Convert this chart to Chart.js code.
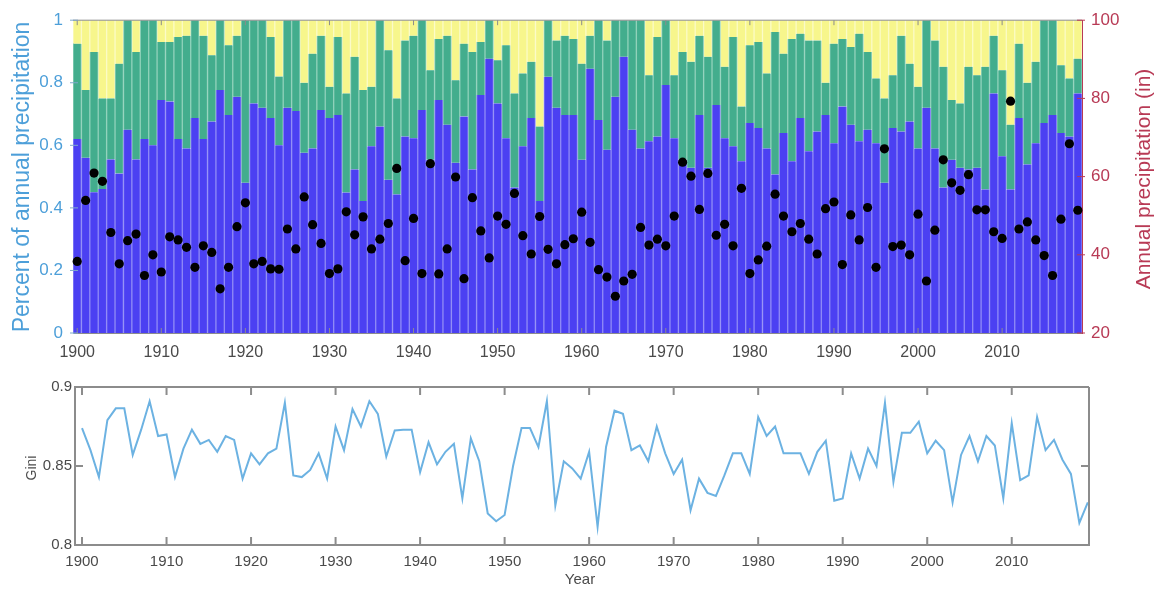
<!DOCTYPE html>
<html>
<head>
<meta charset="utf-8">
<script src="https://cdn.jsdelivr.net/npm/chart.js@4.4.0/dist/chart.umd.min.js"></script>
<style>
  body { margin: 0; background: #fff; }
  #wrap { position: relative; width: 1158px; height: 589px; }
  #share { position: absolute; left: 0; top: 0; }
  #gini { position: absolute; left: 0; top: 370px; }
</style>
</head>
<body>
<div id="wrap">
  <canvas id="share" width="1158" height="370"></canvas>
  <canvas id="gini" width="1158" height="219"></canvas>
</div>
<script>
const years = Array.from({ length: 120 }, (_, i) => 1900 + i);

// fraction of annual precipitation in the blue part (bottom of each bar)
const blueShare = [
  0.62, 0.56, 0.45, 0.46, 0.555, 0.51, 0.65, 0.555, 0.62, 0.60,
  0.745, 0.74, 0.62, 0.59, 0.687, 0.62, 0.676, 0.777, 0.697, 0.755,
  0.48, 0.734, 0.72, 0.687, 0.60, 0.72, 0.71, 0.576, 0.59, 0.713,
  0.687, 0.697, 0.449, 0.523, 0.422, 0.597, 0.66, 0.49, 0.443, 0.628,
  0.623, 0.713, 0.554, 0.745, 0.666, 0.544, 0.692, 0.523, 0.761, 0.877,
  0.734, 0.623, 0.465, 0.597, 0.687, 0.422, 0.819, 0.72, 0.697, 0.697,
  0.554, 0.845, 0.681, 0.586, 0.755, 0.883, 0.65, 0.59, 0.613, 0.628,
  0.793, 0.623, 0.554, 0.528, 0.697, 0.528, 0.729, 0.623, 0.597, 0.549,
  0.671, 0.655, 0.59, 0.507, 0.639, 0.549, 0.687, 0.581, 0.644, 0.697,
  0.607, 0.724, 0.666, 0.613, 0.65, 0.607, 0.48, 0.655, 0.644, 0.676,
  0.59, 0.72, 0.59, 0.465, 0.554, 0.528, 0.523, 0.528, 0.459, 0.766,
  0.565, 0.459, 0.687, 0.539, 0.607, 0.671, 0.697, 0.639, 0.628, 0.766
];

// top of the green part (blue + green), the rest up to 1 is yellow
const greenTop = [
  0.925, 0.777, 0.898, 0.75, 0.75, 0.861, 1.0, 0.898, 1.0, 1.0,
  0.93, 0.93, 0.946, 0.95, 1.0, 0.95, 0.888, 1.0, 0.92, 0.95,
  1.0, 1.0, 1.0, 0.946, 0.82, 1.0, 1.0, 0.80, 0.893, 0.95,
  0.787, 0.946, 0.766, 0.883, 0.777, 0.787, 1.0, 0.904, 0.75, 0.935,
  0.95, 1.0, 0.84, 0.94, 0.95, 0.808, 0.925, 0.898, 0.93, 1.0,
  0.872, 0.92, 0.766, 0.83, 0.867, 0.66, 1.0, 0.935, 0.95, 0.94,
  0.861, 0.95, 1.0, 0.935, 1.0, 1.0, 1.0, 1.0, 0.824, 0.946,
  1.0, 0.824, 0.898, 0.867, 0.95, 0.883, 1.0, 0.851, 0.946, 0.724,
  0.92, 0.93, 0.83, 0.962, 0.893, 0.94, 0.957, 0.935, 0.935, 0.80,
  0.925, 0.94, 0.914, 0.957, 0.898, 0.814, 0.75, 0.824, 0.95, 0.861,
  0.787, 1.0, 0.935, 0.851, 0.745, 0.734, 0.851, 0.824, 0.851, 0.95,
  0.84, 0.666, 0.925, 0.80, 0.867, 1.0, 1.0, 0.856, 0.814, 0.877
];

// annual precipitation (in), black dots
const precipIn = [
  38.3, 53.9, 60.9, 58.8, 45.7, 37.7, 43.6, 45.3, 34.7, 40.0,
  35.6, 44.6, 43.8, 41.9, 36.8, 42.3, 40.6, 31.3, 36.8, 47.2,
  53.3, 37.7, 38.3, 36.4, 36.3, 46.6, 41.5, 54.8, 47.7, 42.9,
  35.2, 36.4, 51.0, 45.1, 49.7, 41.5, 44.0, 48.0, 62.1, 38.5,
  49.3, 35.2, 63.3, 35.1, 41.5, 59.9, 33.9, 54.6, 46.1, 39.2,
  49.9, 47.8, 55.7, 44.9, 40.2, 49.8, 41.4, 37.7, 42.6, 44.1,
  50.9, 43.2, 36.2, 34.3, 29.4, 33.3, 35.0, 47.0, 42.5, 44.0,
  42.3, 49.9, 63.7, 60.1, 51.6, 60.8, 45.0, 47.8, 42.3, 57.0,
  35.2, 38.7, 42.2, 55.5, 49.9, 45.9, 48.0, 44.0, 40.2, 51.8,
  53.5, 37.5, 50.2, 43.8, 52.1, 36.8, 67.1, 42.1, 42.5, 40.0,
  50.4, 33.3, 46.3, 64.3, 58.4, 56.5, 60.5, 51.5, 51.5, 45.9,
  44.2, 79.3, 46.6, 48.4, 43.8, 39.8, 34.7, 49.1, 68.4, 51.4
];

const gini = [
  0.874, 0.860, 0.843, 0.879, 0.8865, 0.8865, 0.857, 0.873, 0.891, 0.869,
  0.870, 0.843, 0.861, 0.873, 0.864, 0.8665, 0.859, 0.869, 0.8665, 0.842,
  0.858, 0.851, 0.858, 0.861, 0.890, 0.844, 0.843, 0.8475, 0.858, 0.842,
  0.875, 0.860, 0.886, 0.875, 0.891, 0.883, 0.856, 0.8725, 0.873, 0.873,
  0.846, 0.865, 0.851, 0.859, 0.864, 0.8295, 0.8675, 0.853, 0.820, 0.815,
  0.819, 0.850, 0.874, 0.874, 0.862, 0.891, 0.825, 0.853, 0.8485, 0.842,
  0.859, 0.8115, 0.862, 0.885, 0.883, 0.860, 0.863, 0.853, 0.875, 0.858,
  0.845, 0.854, 0.822, 0.842, 0.833, 0.831, 0.844, 0.858, 0.858, 0.845,
  0.881, 0.869, 0.875, 0.858, 0.858, 0.858, 0.845, 0.859, 0.866, 0.828,
  0.8295, 0.858, 0.842, 0.861, 0.850, 0.890, 0.840, 0.871, 0.871, 0.878,
  0.858, 0.866, 0.860, 0.827, 0.857, 0.869, 0.853, 0.869, 0.863, 0.8295,
  0.877, 0.841, 0.844, 0.881, 0.860, 0.8665, 0.854, 0.845, 0.814, 0.827
];

const decadeTicks = [1900, 1910, 1920, 1930, 1940, 1950, 1960, 1970, 1980, 1990, 2000, 2010];
const shareTicks = [0, 0.2, 0.4, 0.6, 0.8, 1];
const precipTicks = [20, 40, 60, 80, 100];
const giniTicks = [0.8, 0.85, 0.9];

const leftBlue = "#4d9fd9";
const rightRed = "#b83a55";
const frameGray = "#8c8c8c";
const textGray = "#4a4a4a";

Chart.defaults.font.family = "'Liberation Sans', Arial, sans-serif";

// MATLAB style box: top edge and short inward tick marks
const frameTicks = {
  id: "frameTicks",
  afterDraw(chart, args, o) {
    const { ctx, chartArea: a, scales } = chart;
    ctx.save();
    ctx.lineWidth = o.width;
    ctx.strokeStyle = o.color;
    ctx.beginPath();
    ctx.moveTo(a.left, a.top);
    ctx.lineTo(a.right, a.top);
    if (o.right) {
      ctx.moveTo(a.right, a.top);
      ctx.lineTo(a.right, a.bottom);
    }
    for (const v of o.xValues) {
      const px = scales.x.getPixelForValue(v);
      ctx.moveTo(px, a.top);
      ctx.lineTo(px, a.top + o.len);
      ctx.moveTo(px, a.bottom);
      ctx.lineTo(px, a.bottom - o.len);
    }
    ctx.stroke();
    for (const ax of o.yAxes) {
      ctx.strokeStyle = ax.color;
      ctx.beginPath();
      for (const v of ax.values) {
        const py = scales[ax.id].getPixelForValue(v);
        if (ax.side !== "right") { ctx.moveTo(a.left - ax.out, py); ctx.lineTo(a.left + o.len, py); }
        if (ax.side !== "left") { ctx.moveTo(a.right + ax.out, py); ctx.lineTo(a.right - o.len, py); }
      }
      ctx.stroke();
    }
    ctx.restore();
  }
};

// axis titles, both vertical ones read bottom to top
const axisTitles = {
  id: "axisTitles",
  afterDraw(chart, args, o) {
    const ctx = chart.ctx;
    for (const t of o.items) {
      ctx.save();
      ctx.translate(t.x, t.y);
      if (t.rotate) ctx.rotate(-Math.PI / 2);
      ctx.font = t.font;
      ctx.fillStyle = t.color;
      ctx.textAlign = "center";
      ctx.textBaseline = "middle";
      ctx.fillText(t.text, 0, 0);
      ctx.restore();
    }
  }
};

const decadeIdx = years.map((y, i) => (y % 10 === 0 ? i : -1)).filter((i) => i >= 0);

function barSet(label, data, fill, edge) {
  return {
    label,
    data,
    backgroundColor: fill,
    borderColor: edge,
    borderWidth: { left: 1, right: 1, top: 0, bottom: 0 },
    borderSkipped: false,
    stack: "share",
    order: 1
  };
}

new Chart(document.getElementById("share"), {
  type: "bar",
  data: {
    labels: years,
    datasets: [
      {
        type: "line",
        label: "Annual precipitation",
        data: precipIn,
        yAxisID: "y2",
        showLine: false,
        pointRadius: 4.6,
        pointBackgroundColor: "#000",
        pointBorderWidth: 0,
        order: 0
      },
      barSet("blue", blueShare, "#4b40f2", "#8e89f6"),
      barSet("green", greenTop.map((t, i) => t - blueShare[i]), "#43ad8d", "#8fd1ba"),
      barSet("yellow", greenTop.map((t) => 1 - t), "#f7f68c", "#fbfbc4")
    ]
  },
  options: {
    responsive: false,
    animation: false,
    layout: { padding: { top: 18 } },
    datasets: { bar: { barPercentage: 1, categoryPercentage: 1 } },
    plugins: {
      legend: { display: false },
      tooltip: { enabled: false },
      frameTicks: {
        color: frameGray,
        width: 1,
        len: 5,
        right: false,
        xValues: decadeIdx,
        yAxes: [
          { id: "y", values: shareTicks, color: "#7fa9cc", side: "left", out: 3 },
          { id: "y2", values: precipTicks, color: rightRed, side: "right", out: 3 }
        ]
      },
      axisTitles: {
        items: [
          { text: "Percent of annual precipitation", x: 23, y: 177, rotate: true, font: "23px 'Liberation Sans', Arial", color: leftBlue },
          { text: "Annual precipitation (in)", x: 1144, y: 179, rotate: true, font: "21px 'Liberation Sans', Arial", color: rightRed }
        ]
      }
    },
    scales: {
      x: {
        stacked: true,
        grid: { display: false, drawTicks: false },
        border: { color: frameGray },
        ticks: {
          autoSkip: false,
          maxRotation: 0,
          padding: 10,
          color: textGray,
          font: { size: 16 },
          callback: (v, i) => (years[i] % 10 === 0 ? String(years[i]) : "")
        },
        afterFit(s) { s.height = 37; }
      },
      y: {
        stacked: true,
        min: 0,
        max: 1,
        grid: { display: false, drawTicks: false },
        border: { color: "#8fb3d3" },
        ticks: {
          stepSize: 0.2,
          padding: 10,
          color: leftBlue,
          font: { size: 17 },
          callback: (v) => String(+v.toFixed(1))
        },
        afterFit(s) { s.width = 73; }
      },
      y2: {
        position: "right",
        min: 20,
        max: 100,
        grid: { display: false, drawTicks: false },
        border: { color: rightRed },
        ticks: { stepSize: 20, padding: 9, color: rightRed, font: { size: 17 } },
        afterFit(s) { s.width = 76; }
      }
    }
  },
  plugins: [frameTicks, axisTitles]
});

new Chart(document.getElementById("gini"), {
  type: "line",
  data: {
    datasets: [{
      label: "Gini",
      data: years.map((y, i) => ({ x: y, y: gini[i] })),
      borderColor: "#6cb2e2",
      borderWidth: 2,
      pointRadius: 0,
      tension: 0
    }]
  },
  options: {
    responsive: false,
    animation: false,
    layout: { padding: { top: 17, right: 69 } },
    plugins: {
      legend: { display: false },
      tooltip: { enabled: false },
      frameTicks: {
        color: frameGray,
        width: 2,
        len: 8,
        right: true,
        xValues: decadeTicks,
        yAxes: [{ id: "y", values: [0.85], color: frameGray, side: "both", out: 0 }]
      },
      axisTitles: {
        items: [
          { text: "Gini", x: 32, y: 98, rotate: true, font: "14px 'Liberation Sans', Arial", color: textGray },
          { text: "Year", x: 580, y: 210, rotate: false, font: "15px 'Liberation Sans', Arial", color: textGray }
        ]
      }
    },
    scales: {
      x: {
        type: "linear",
        min: 1899.17,
        max: 2019.14,
        afterBuildTicks(s) { s.ticks = decadeTicks.map((v) => ({ value: v })); },
        grid: { display: false, drawTicks: false },
        border: { color: frameGray, width: 2 },
        ticks: { padding: 8, color: textGray, font: { size: 15 }, callback: (v) => String(v) },
        afterFit(s) { s.height = 44; }
      },
      y: {
        min: 0.8,
        max: 0.9,
        afterBuildTicks(s) { s.ticks = giniTicks.map((v) => ({ value: v })); },
        grid: { display: false, drawTicks: false },
        border: { color: frameGray, width: 2 },
        ticks: { padding: 3, color: textGray, font: { size: 15 }, callback: (v) => String(v) },
        afterFit(s) { s.width = 75; }
      }
    }
  },
  plugins: [frameTicks, axisTitles]
});
</script>
</body>
</html>
